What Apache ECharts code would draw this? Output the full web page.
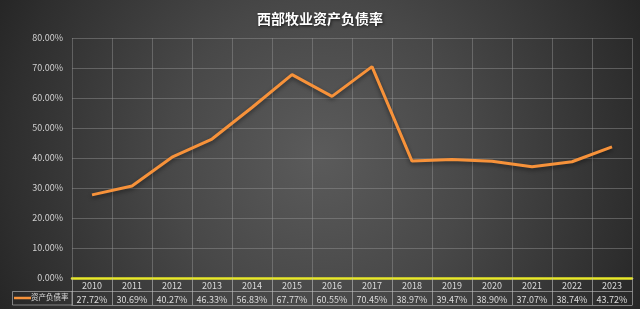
<!DOCTYPE html>
<html><head><meta charset="utf-8">
<script src="https://cdn.jsdelivr.net/npm/echarts@6/dist/echarts.min.js"></script>
<style>
html,body{margin:0;padding:0;}
#c{width:640px;height:309px;background:radial-gradient(circle farthest-corner at 50% 50%, #5b5b5b 0%, #484848 43%, #2e2e2e 88%, #262626 100%);}
</style></head><body>
<div id="c"></div>
<script>
var title = '西部牧业资产负债率';
var seriesName = '资产负债率';
var years = ['2010','2011','2012','2013','2014','2015','2016','2017','2018','2019','2020','2021','2022','2023'];
var values = [27.72,30.69,40.27,46.33,56.83,67.77,60.55,70.45,38.97,39.47,38.90,37.07,38.74,43.72];
var yMin = 0, yMax = 80, yStep = 10;

var font = '"Noto Sans CJK SC", "Noto Sans", sans-serif';
var chart = echarts.init(document.getElementById('c'));
var gridLine = 'rgba(150,150,150,0.45)';
var tableLine = 'rgba(190,190,190,0.6)';
chart.setOption({
  backgroundColor: 'transparent',
  title: {
    text: title, left: 'center', top: 7,
    textStyle: {color: '#fff', fontSize: 14, fontWeight: 'bold', fontFamily: font,
      textShadowColor: 'rgba(0,0,0,0.7)', textShadowBlur: 3, textShadowOffsetX: 1, textShadowOffsetY: 1}
  },
  grid: {left: 72, right: 8, top: 38, bottom: 31, containLabel: false},
  xAxis: [{
    type: 'category', data: years, position: 'bottom', boundaryGap: true,
    axisLine: {show: true, lineStyle: {color: '#e8e82a', width: 2.5}},
    axisTick: {show: true, alignWithLabel: false, length: 27, interval: 0, lineStyle: {color: tableLine, width: 1}},
    axisLabel: {color: '#dcdcdc', fontSize: 9, margin: 3, fontFamily: font, interval: 0},
    splitLine: {show: true, interval: 0, lineStyle: {color: gridLine, width: 1}}
  }, {
    type: 'category', data: values.map(function(v){return v.toFixed(2)+'%';}), position: 'bottom', offset: 13,
    axisLine: {show: true, lineStyle: {color: tableLine, width: 1}},
    axisTick: {show: false},
    axisLabel: {color: '#dcdcdc', fontSize: 9, margin: 4, fontFamily: font, interval: 0},
    splitLine: {show: false}
  }, {
    type: 'category', data: years, position: 'bottom', offset: 27,
    axisLine: {show: true, lineStyle: {color: tableLine, width: 1}},
    axisTick: {show: false}, axisLabel: {show: false}, splitLine: {show: false}
  }],
  yAxis: {
    type: 'value', min: yMin, max: yMax, interval: yStep,
    axisLine: {show: false}, axisTick: {show: false},
    axisLabel: {color: '#d0d0d0', fontSize: 9, margin: 9, fontFamily: font,
      formatter: function(v){return v.toFixed(2)+'%';}},
    splitLine: {lineStyle: {color: gridLine, width: 1}}
  },
  graphic: [
    {type: 'rect', shape: {x: 12.5, y: 291.5, width: 59.5, height: 13.5}, style: {fill: 'none', stroke: tableLine, lineWidth: 1}},
    {type: 'line', shape: {x1: 14, y1: 298, x2: 31, y2: 298}, style: {stroke: '#f7923a', lineWidth: 2.5}},
    {type: 'text', x: 31, y: 293, style: {text: seriesName, fill: '#dcdcdc', font: '7.5px ' + font}}
  ],
  series: [{
    name: seriesName, type: 'line', data: values, xAxisIndex: 0,
    symbol: 'none', smooth: false,
    lineStyle: {color: '#f7923a', width: 3, shadowColor: 'rgba(0,0,0,0.45)', shadowBlur: 4, shadowOffsetY: 2},
    itemStyle: {color: '#f7923a'}
  }]
});
</script>
</body></html>
